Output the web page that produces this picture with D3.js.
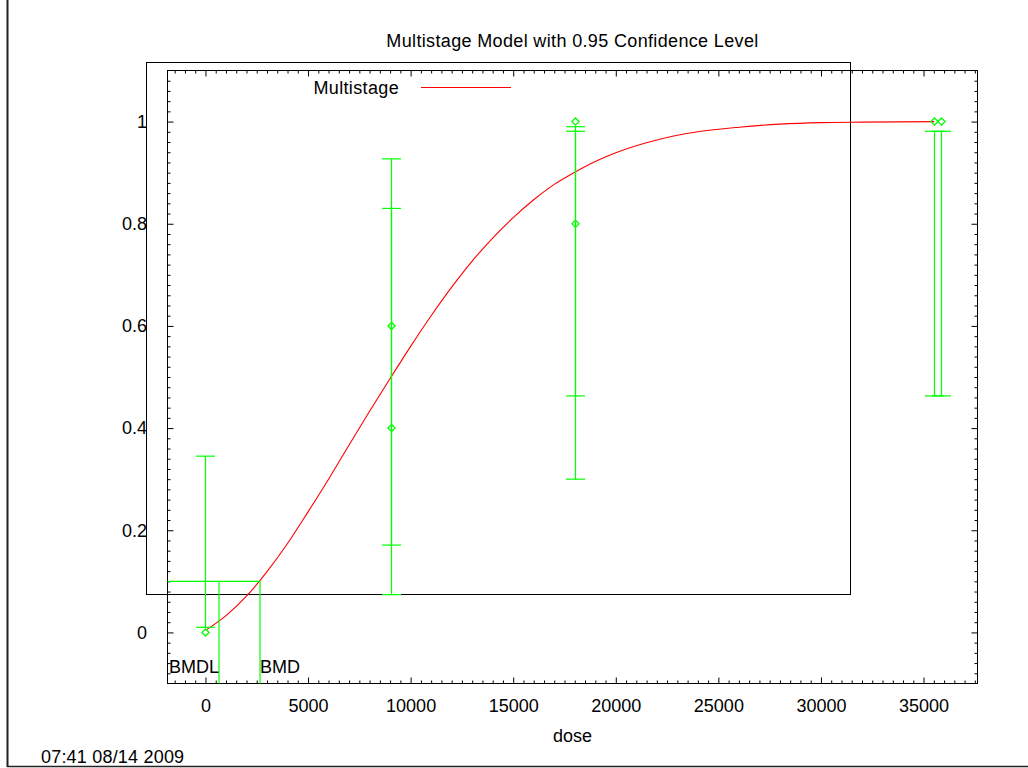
<!DOCTYPE html>
<html>
<head>
<meta charset="utf-8">
<script src="https://cdn.jsdelivr.net/npm/d3@7"></script>
<style>
  html, body { margin: 0; padding: 0; background: #fff; }
  svg { display: block; }
  text { font-family: "Liberation Sans", Arial, Helvetica, sans-serif; font-size: 18px; fill: #000; }
</style>
</head>
<body>
<svg id="chart" width="1028" height="768"></svg>
<script>
// Observed dose groups: response fraction with lower / upper confidence limits
const doses     = [0,     9040,  9040,  18030, 18030, 35520, 35840];
const responses = [0,     0.6,   0.4,   1.0,   0.8,   1.0,   1.0];
const lowerCL   = [0.010, 0.171, 0.074, 0.463, 0.300, 0.463, 0.463];
const upperCL   = [0.345, 0.927, 0.830, 0.990, 0.981, 0.981, 0.981];

// Fitted multistage curve, sampled along the dose axis
const curveDose = [0, 1000, 2000, 3000, 4000, 5000, 6000, 7000, 8000, 9000, 10000,
                   11000, 12000, 13000, 14000, 15000, 16000, 17000, 18000, 19000, 20000,
                   22000, 24000, 26000, 28000, 30000, 32000, 35520];
const curveResp = [0.004, 0.033, 0.071, 0.119, 0.174, 0.236, 0.300, 0.367, 0.433, 0.497, 0.560,
                   0.620, 0.676, 0.727, 0.772, 0.812, 0.847, 0.877, 0.901, 0.922, 0.939,
                   0.964, 0.980, 0.989, 0.995, 0.998, 0.999, 1.000];

// Benchmark response and doses
const bmr = 0.1;
const bmd = 2660;
const bmdl = 660;

// Axis ticks
const xTicks = [0, 5000, 10000, 15000, 20000, 25000, 30000, 35000];
const yTicks = [0, 0.2, 0.4, 0.6, 0.8, 1];
const xDomain = [-1850, 37630];
const yDomain = [-0.1, 1.1];

const titleText = "Multistage Model with 0.95 Confidence Level";
const xLabel = "dose";
const legendLabel = "Multistage";
const stamp = "07:41 08/14 2009";

const GREEN = "#00ff00";
const RED = "#ff0000";

const svg = d3.select("#chart");
const pLeft = 167.5, pRight = 977.5, pTop = 70.5, pBottom = 683.5;

const x = d3.scaleLinear().domain(xDomain).range([pLeft, pRight]);
const y = d3.scaleLinear().domain(yDomain).range([pBottom, pTop]);

// page border
svg.append("line").attr("x1", 7.5).attr("x2", 7.5).attr("y1", 0).attr("y2", 767)
  .attr("stroke", "#222").attr("stroke-width", 2);
svg.append("line").attr("x1", 7).attr("x2", 1028).attr("y1", 766.5).attr("y2", 766.5)
  .attr("stroke", "#222").attr("stroke-width", 1.5);

// minor tick values
const xMinor = d3.range(Math.ceil(xDomain[0] / 500) * 500, xDomain[1], 500).filter(v => v % 5000 !== 0);
const yMinor = d3.range(-5, 56).map(i => i * 0.02)
  .filter(v => v > yDomain[0] && v < yDomain[1] && Math.abs(Math.round(v * 5) - v * 5) > 1e-6);

function styleAxis(g) {
  g.select(".domain").remove();
  g.selectAll(".tick line").attr("stroke", "#000");
  g.selectAll(".tick text").attr("fill", "#000").style("font-size", "18px")
    .style("font-family", '"Liberation Sans", Arial, sans-serif');
}

// bottom axis with labels, inward ticks
svg.append("g").attr("transform", `translate(0,${pBottom})`)
  .call(d3.axisBottom(x).tickValues(xTicks).tickFormat(d3.format("d")).tickSize(-6).tickSizeOuter(0).tickPadding(15.5))
  .call(styleAxis);
svg.append("g").attr("transform", `translate(0,${pBottom})`)
  .call(d3.axisBottom(x).tickValues(xMinor).tickFormat("").tickSize(-3).tickSizeOuter(0))
  .call(styleAxis);
// top mirror
svg.append("g").attr("transform", `translate(0,${pTop})`)
  .call(d3.axisTop(x).tickValues(xTicks).tickFormat("").tickSize(-6).tickSizeOuter(0))
  .call(styleAxis);
svg.append("g").attr("transform", `translate(0,${pTop})`)
  .call(d3.axisTop(x).tickValues(xMinor).tickFormat("").tickSize(-3).tickSizeOuter(0))
  .call(styleAxis);

// left axis with labels
svg.append("g").attr("transform", `translate(${pLeft},0)`)
  .call(d3.axisLeft(y).tickValues(yTicks).tickFormat(d3.format("")).tickSize(-6).tickSizeOuter(0).tickPadding(20.5))
  .call(styleAxis);
svg.append("g").attr("transform", `translate(${pLeft},0)`)
  .call(d3.axisLeft(y).tickValues(yMinor).tickFormat("").tickSize(-3).tickSizeOuter(0))
  .call(styleAxis);
// right mirror
svg.append("g").attr("transform", `translate(${pRight},0)`)
  .call(d3.axisRight(y).tickValues(yTicks).tickFormat("").tickSize(-6).tickSizeOuter(0))
  .call(styleAxis);
svg.append("g").attr("transform", `translate(${pRight},0)`)
  .call(d3.axisRight(y).tickValues(yMinor).tickFormat("").tickSize(-3).tickSizeOuter(0))
  .call(styleAxis);

// plot frame
svg.append("rect").attr("x", pLeft).attr("y", pTop).attr("width", pRight - pLeft).attr("height", pBottom - pTop)
  .attr("fill", "none").attr("stroke", "#000").attr("stroke-width", 1);

// key box
svg.append("rect").attr("x", 146.5).attr("y", 62.5).attr("width", 704).attr("height", 532)
  .attr("fill", "none").attr("stroke", "#000").attr("stroke-width", 1);

// title
svg.append("text").attr("x", (pLeft + pRight) / 2).attr("y", 46.5).attr("text-anchor", "middle")
  .style("letter-spacing", "0.35px").text(titleText);

// x axis label
svg.append("text").attr("x", (pLeft + pRight) / 2).attr("y", 742).attr("text-anchor", "middle").text(xLabel);

// timestamp
svg.append("text").attr("x", 41).attr("y", 763).style("letter-spacing", "0.2px").text(stamp);

// legend entry
svg.append("text").attr("x", 399).attr("y", 94).attr("text-anchor", "end")
  .style("letter-spacing", "0.35px").text(legendLabel);
svg.append("line").attr("x1", 421).attr("x2", 511).attr("y1", 87.5).attr("y2", 87.5)
  .attr("stroke", RED).attr("stroke-width", 1);

// fitted curve
const curvePts = curveDose.map((d, i) => [d, curveResp[i]]);
svg.append("path").datum(curvePts)
  .attr("d", d3.line().x(d => x(d[0])).y(d => y(d[1])).curve(d3.curveMonotoneX))
  .attr("fill", "none").attr("stroke", RED).attr("stroke-width", 1.1);

// error bars
const cap = 9.5;
const bars = svg.append("g").attr("stroke", GREEN).attr("stroke-width", 1.2).attr("fill", "none");
doses.forEach((d, i) => {
  const cx = Math.round(x(d)) + 0.5;
  bars.append("line").attr("x1", cx).attr("x2", cx).attr("y1", y(lowerCL[i])).attr("y2", y(upperCL[i]));
  [lowerCL[i], upperCL[i]].forEach(v => {
    bars.append("line").attr("x1", cx - cap).attr("x2", cx + cap).attr("y1", y(v)).attr("y2", y(v));
  });
});

// observed points (hollow diamonds)
doses.forEach((d, i) => {
  const cx = Math.round(x(d)) + 0.5, cy = y(responses[i]);
  bars.append("path").attr("transform", `translate(${cx},${cy})`)
    .attr("stroke-width", 1.3)
    .attr("d", "M0,-3.6L3.6,0L0,3.6L-3.6,0Z");
});

// BMD / BMDL markers
const bmdG = svg.append("g").attr("stroke", GREEN).attr("stroke-width", 1.2);
bmdG.append("line").attr("x1", pLeft).attr("x2", x(bmd)).attr("y1", y(bmr)).attr("y2", y(bmr));
bmdG.append("line").attr("x1", x(bmd)).attr("x2", x(bmd)).attr("y1", y(bmr)).attr("y2", pBottom);
bmdG.append("line").attr("x1", x(bmdl)).attr("x2", x(bmdl)).attr("y1", y(bmr)).attr("y2", pBottom);

svg.append("text").attr("x", x(bmdl)).attr("y", 672.5).attr("text-anchor", "end").text("BMDL");
svg.append("text").attr("x", x(bmd)).attr("y", 672.5).attr("text-anchor", "start").text("BMD");
</script>
</body>
</html>
